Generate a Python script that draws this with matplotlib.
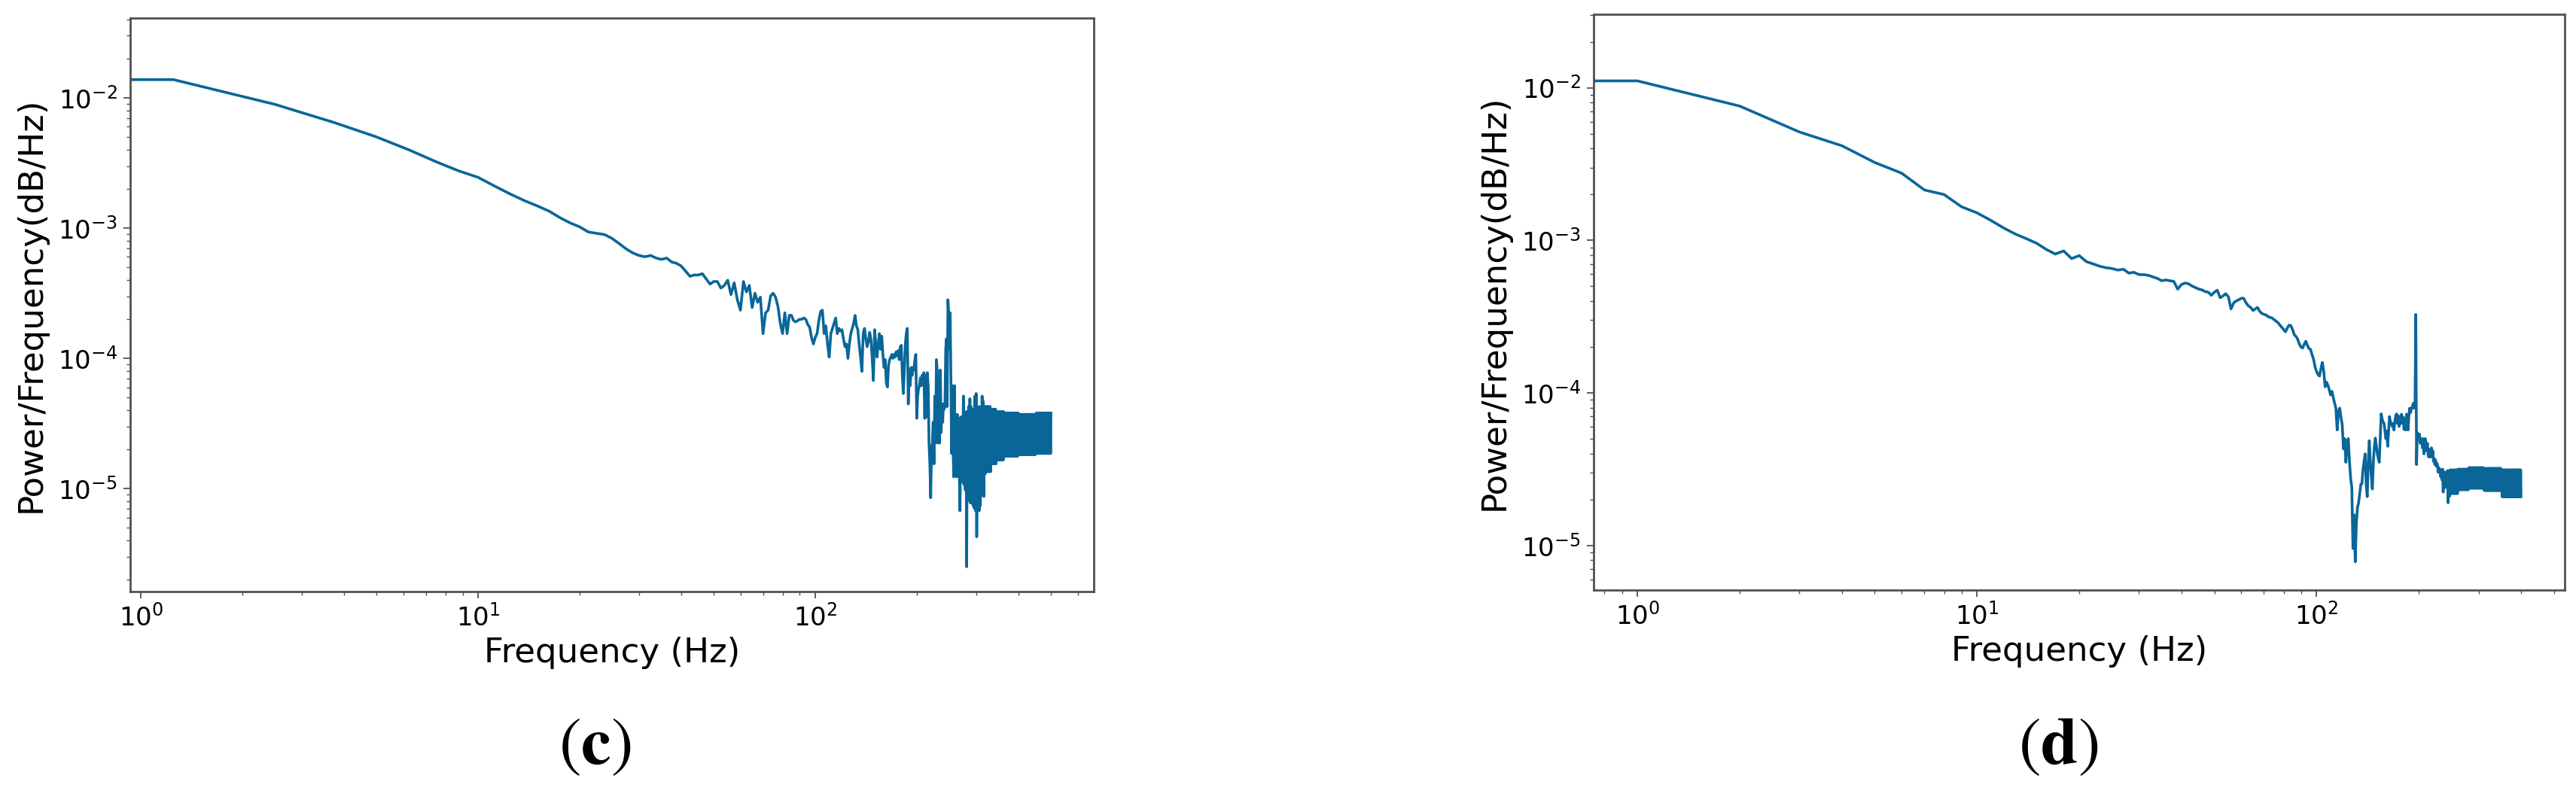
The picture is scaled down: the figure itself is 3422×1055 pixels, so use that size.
import numpy as np
import matplotlib
matplotlib.use('Agg')
import matplotlib.pyplot as plt

# bin spacing of the two spectra (Hz); first bin is 0 Hz
df_c = 1.25
df_d = 1.0

# log10 of the PSD, one value per frequency bin
log_psd_c = [
    -1.86, -1.86, -2.05, -2.19, -2.30, -2.40, -2.49, -2.56, -2.61, -2.68,
    -2.74, -2.79, -2.83, -2.87, -2.92, -2.96, -2.99, -3.03, -3.04, -3.05,
    -3.08, -3.12, -3.16, -3.19, -3.21, -3.22, -3.21, -3.23, -3.24, -3.23,
    -3.26, -3.27, -3.29, -3.33, -3.37, -3.36, -3.36, -3.35, -3.39, -3.43,
    -3.41, -3.41, -3.46, -3.44, -3.40, -3.51, -3.42, -3.55, -3.63, -3.41,
    -3.49, -3.44, -3.61, -3.50, -3.57, -3.53, -3.81, -3.65, -3.63, -3.52,
    -3.50, -3.53, -3.60, -3.73, -3.81, -3.65, -3.81, -3.67, -3.67, -3.71,
    -3.72, -3.71, -3.70, -3.70, -3.69, -3.70, -3.74, -3.76, -3.84, -3.89,
    -3.84, -3.81, -3.71, -3.64, -3.63, -3.81, -3.75, -3.89, -3.99, -3.81,
    -3.77, -3.73, -3.69, -3.81, -3.77, -3.79, -3.78, -3.85, -3.91, -3.89,
    -4.00, -3.89, -3.81, -3.77, -3.73, -3.67, -3.75, -3.78, -3.89, -3.99,
    -4.10, -3.81, -3.77, -3.85, -3.91, -3.87, -3.80, -3.85, -3.99, -4.17,
    -3.78, -3.89, -3.99, -3.89, -3.81, -3.93, -3.83, -3.97, -4.07, -4.01,
    -4.19, -4.22, -4.05, -4.01, -3.99, -3.97, -4.00, -3.97, -3.99, -3.95,
    -3.98, -3.94, -4.01, -3.91, -3.90, -4.13, -4.27, -4.09, -3.89, -3.81,
    -3.77, -4.35, -4.09, -4.21, -4.07, -4.13, -4.07, -4.09, -4.01, -3.97,
    -4.46, -4.29, -4.23, -4.21, -4.15, -4.21, -4.13, -4.19, -4.11, -4.46,
    -4.13, -4.45, -4.11, -4.21, -4.65, -4.81, -5.07, -4.69, -4.65, -4.49,
    -4.81, -4.29, -4.65, -4.01, -4.09, -4.65, -4.13, -4.65, -4.09, -4.57,
    -4.35, -4.49, -4.35, -4.39, -4.37, -3.93, -3.85, -4.37, -3.55, -3.65,
    -3.93, -3.65, -4.13, -4.73, -4.21, -4.69, -4.91, -4.21, -4.89, -4.45,
    -4.91, -4.43, -4.89, -4.49, -4.89, -5.17, -4.45, -4.93, -4.45, -4.95,
    -4.29, -4.97, -4.43, -5.01, -4.41, -5.60, -4.41, -5.09, -4.37, -5.09,
    -4.31, -5.11, -4.37, -5.11, -4.39, -5.13, -4.39, -5.15, -4.29, -5.17,
    -4.27, -5.37, -4.37, -5.17, -4.39, -5.17, -4.37, -5.13, -4.39, -5.05,
    -4.29, -5.05, -4.33, -5.06, -4.37, -4.89,
    -4.37, -4.87, -4.37, -4.87, -4.37, -4.87, -4.37, -4.87, -4.37, -4.87,
    -4.39, -4.81, -4.39, -4.81, -4.39, -4.81, -4.39, -4.81, -4.39, -4.81,
    -4.41, -4.78, -4.41, -4.78, -4.41, -4.78, -4.41, -4.78, -4.41, -4.78,
    -4.41, -4.78, -4.41, -4.78, -4.41,
    -4.75, -4.42, -4.75, -4.42, -4.75, -4.42, -4.75, -4.42, -4.75, -4.42,
    -4.75, -4.42, -4.75, -4.42, -4.75, -4.42, -4.75, -4.42, -4.75, -4.42,
    -4.75, -4.42, -4.75, -4.42, -4.75, -4.42, -4.75, -4.42, -4.75, -4.42,
    -4.74, -4.43, -4.74, -4.43, -4.74, -4.43, -4.74, -4.43, -4.74, -4.43,
    -4.74, -4.43, -4.74, -4.43, -4.74, -4.43, -4.74, -4.43, -4.74, -4.43,
    -4.74, -4.43, -4.74, -4.43, -4.74, -4.43, -4.74, -4.43, -4.74, -4.43,
    -4.74, -4.43, -4.74, -4.43, -4.74, -4.43, -4.74, -4.43, -4.74, -4.43,
    -4.73, -4.42, -4.73, -4.42, -4.73, -4.42, -4.73, -4.42, -4.73, -4.42,
    -4.73, -4.42, -4.73, -4.42, -4.73, -4.42, -4.73, -4.42, -4.73, -4.42,
    -4.73, -4.42, -4.73, -4.42, -4.73, -4.42, -4.73, -4.42, -4.73, -4.42,
    -4.73, -4.42, -4.73, -4.42, -4.73, -4.42, -4.73, -4.42, -4.73, -4.42,
]

log_psd_d = [
    -1.955, -1.955, -2.12, -2.29, -2.38, -2.49, -2.56, -2.67, -2.70, -2.78,
    -2.82, -2.87, -2.92, -2.96, -2.99, -3.02, -3.06, -3.09, -3.07, -3.12,
    -3.10, -3.14, -3.155, -3.17, -3.18, -3.185, -3.195, -3.19, -3.215, -3.21,
    -3.225, -3.225, -3.23, -3.24, -3.25, -3.265, -3.26, -3.265, -3.27, -3.32,
    -3.29, -3.28, -3.285, -3.30, -3.31, -3.32, -3.325, -3.336, -3.34, -3.36,
    -3.34, -3.327, -3.376, -3.365, -3.35, -3.37, -3.45, -3.41, -3.397, -3.39,
    -3.38, -3.38, -3.41, -3.43, -3.44, -3.46, -3.45, -3.44, -3.465, -3.48,
    -3.485, -3.49, -3.50, -3.505, -3.51, -3.52, -3.53, -3.54, -3.556, -3.57,
    -3.585, -3.60, -3.575, -3.556, -3.56, -3.585, -3.62, -3.63, -3.65, -3.68,
    -3.70, -3.706, -3.68, -3.662, -3.69, -3.71, -3.715, -3.75, -3.78, -3.83,
    -3.86, -3.88, -3.89, -3.84, -3.80, -3.86, -3.96, -3.93, -3.95, -3.98,
    -4.014, -3.99, -4.03, -4.067, -4.10, -4.243, -4.12, -4.10, -4.16, -4.208,
    -4.367, -4.30, -4.455, -4.35, -4.30, -4.45, -4.56, -4.62, -5.02, -4.80,
    -5.107, -4.85, -4.75, -4.72, -4.66, -4.60, -4.596, -4.50, -4.45, -4.40,
    -4.60, -4.68, -4.45, -4.314, -4.45, -4.55, -4.63, -4.45, -4.35, -4.296,
    -4.35, -4.40, -4.43, -4.455, -4.30, -4.138, -4.17, -4.19, -4.20, -4.25,
    -4.30, -4.25, -4.35, -4.25, -4.155, -4.19, -4.20, -4.22, -4.20, -4.243,
    -4.19, -4.15, -4.138, -4.20, -4.15, -4.22, -4.19, -4.20, -4.14, -4.20,
    -4.16, -4.24, -4.17, -4.243, -4.14, -4.20, -4.243, -4.15, -4.10, -4.13,
    -4.11, -4.10, -4.08, -4.067, -4.10, -4.07, -3.486, -4.47, -4.26, -4.28,
    -4.30, -4.27, -4.33, -4.30, -4.31, -4.36, -4.30, -4.40, -4.34, -4.30,
    -4.35, -4.38, -4.33, -4.40, -4.42, -4.37, -4.42, -4.42, -4.36, -4.40,
    -4.38, -4.45, -4.43, -4.47, -4.44, -4.48, -4.46, -4.47, -4.52, -4.49,
    -4.52, -4.50, -4.55, -4.52, -4.57, -4.50, -4.65, -4.52, -4.60, -4.52,
    -4.62, -4.53, -4.58, -4.51, -4.72, -4.52, -4.68,
    -4.505, -4.66, -4.505, -4.66, -4.505, -4.66, -4.505, -4.66, -4.505, -4.66,
    -4.505, -4.66, -4.505, -4.66,
    -4.50, -4.635, -4.50, -4.635, -4.50, -4.635, -4.50, -4.635, -4.50, -4.635,
    -4.50, -4.635, -4.50, -4.635, -4.50, -4.635, -4.50, -4.635, -4.50, -4.635,
    -4.49, -4.625, -4.49, -4.625, -4.49, -4.625, -4.49, -4.625, -4.49, -4.625,
    -4.49, -4.625, -4.49, -4.625, -4.49, -4.625, -4.49, -4.625, -4.49, -4.625,
    -4.49, -4.625, -4.49, -4.625, -4.49, -4.625, -4.49, -4.625, -4.49, -4.625,
    -4.495, -4.64, -4.495, -4.64, -4.495, -4.64, -4.495, -4.64, -4.495, -4.64,
    -4.495, -4.64, -4.495, -4.64, -4.495, -4.64, -4.495, -4.64, -4.495, -4.64,
    -4.495, -4.64, -4.495, -4.64, -4.495, -4.64, -4.495, -4.64, -4.495, -4.64,
    -4.495, -4.64, -4.495, -4.64, -4.495, -4.64, -4.495, -4.64, -4.495, -4.64,
    -4.505, -4.68, -4.505, -4.68, -4.505, -4.68, -4.505, -4.68, -4.505, -4.68,
    -4.505, -4.68, -4.505, -4.68, -4.505, -4.68, -4.505, -4.68, -4.505, -4.68,
    -4.505, -4.68, -4.505, -4.68, -4.505, -4.68, -4.505, -4.68, -4.505, -4.68,
    -4.505, -4.68, -4.505, -4.68, -4.505, -4.68, -4.505, -4.68, -4.505, -4.68,
    -4.505, -4.68, -4.505, -4.68, -4.505, -4.68, -4.505, -4.68, -4.505, -4.68,
]

xlabel = 'Frequency (Hz)'
ylabel = 'Power/Frequency(dB/Hz)'
tags = [r'$(\mathbf{c})$', r'$(\mathbf{d})$']

psd_c = 10.0 ** np.array(log_psd_c)
psd_d = 10.0 ** np.array(log_psd_d)
freq_c = np.arange(len(psd_c)) * df_c
freq_d = np.arange(len(psd_d)) * df_d

line_color = '#0a6699'
spine_color = '#505050'

W, H = 3422, 1055
fig = plt.figure(figsize=(W / 100, H / 100), dpi=100)


def px_rect(x0, y0, x1, y1):
    # pixel box (top-left origin) -> figure fraction rect
    return [x0 / W, 1 - y1 / H, (x1 - x0) / W, (y1 - y0) / H]


ax_c = fig.add_axes(px_rect(173, 24, 1453, 786))
ax_d = fig.add_axes(px_rect(2117, 19, 3407, 784))

panels = [
    (ax_c, freq_c, psd_c, (0.93, 670), (1.62e-6, 0.041)),
    (ax_d, freq_d, psd_d, (0.743, 538), (5.1e-6, 0.0303)),
]

for ax, f, p, xl, yl in panels:
    ax.plot(f, p, color=line_color, lw=2.6)
    ax.set_xscale('log')
    ax.set_yscale('log')
    ax.set_xlim(*xl)
    ax.set_ylim(*yl)
    ax.set_xlabel(xlabel, fontsize=32.5, labelpad=5)
    ax.set_ylabel(ylabel, fontsize=32.5, labelpad=10)
    ax.tick_params(which='major', length=6.5, width=1.3, pad=5.8,
                   labelsize=24.5, color=spine_color)
    ax.tick_params(which='minor', length=3.8, width=1.0, color=spine_color)
    for s in ax.spines.values():
        s.set_linewidth(2.0)
        s.set_color(spine_color)

fig.text(790 / W, 1 - 991 / H, tags[0], fontsize=64, math_fontfamily='stix',
         ha='center', va='center')
fig.text(2734 / W, 1 - 991 / H, tags[1], fontsize=64, math_fontfamily='stix',
         ha='center', va='center')

fig.savefig('out.png', dpi=100)
